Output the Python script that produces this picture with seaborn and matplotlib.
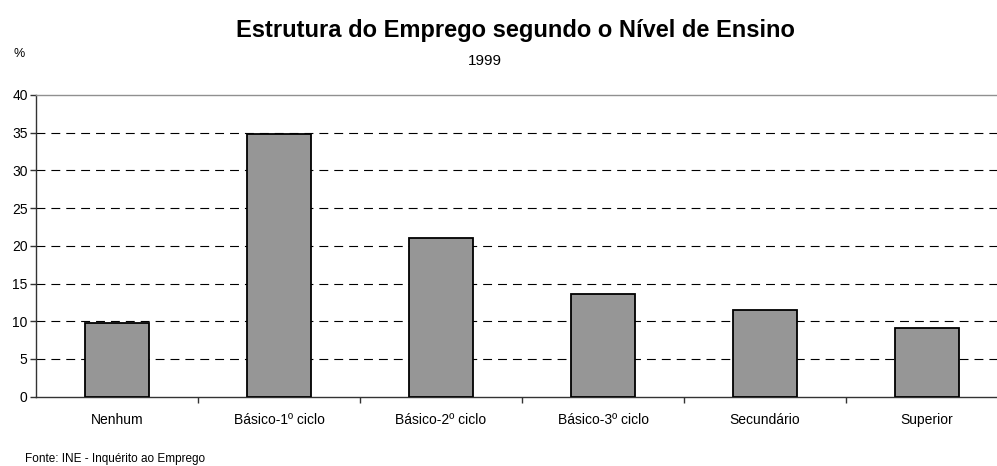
import numpy as np
import pandas as pd
import seaborn as sns
import matplotlib.pyplot as plt
from matplotlib.ticker import MultipleLocator, FixedLocator

niveis = ['Nenhum', 'Básico-1º ciclo', 'Básico-2º ciclo', 'Básico-3º ciclo', 'Secundário', 'Superior']
percentagem = [9.8, 34.8, 21.1, 13.6, 11.5, 9.1]

df = pd.DataFrame({'nivel': niveis, 'pct': percentagem})

sns.set_style('white')
plt.rcParams['font.family'] = ['Liberation Sans', 'DejaVu Sans']
plt.rcParams['text.color'] = 'black'
plt.rcParams['xtick.color'] = 'black'
plt.rcParams['ytick.color'] = 'black'
plt.rcParams['xtick.labelcolor'] = 'black'
plt.rcParams['ytick.labelcolor'] = 'black'

fig = plt.figure(figsize=(9.97, 4.66), dpi=100)
ax = fig.add_axes([36 / 997, 69.3 / 466, 972 / 997, 301.7 / 466])

sns.barplot(data=df, x='nivel', y='pct', color='#969696', saturation=1,
            edgecolor='black', linewidth=1.3, width=0.4, ax=ax, zorder=3)

ax.set_ylim(0, 40)
ax.set_xlim(-0.5, len(niveis) - 0.5)
ax.yaxis.set_major_locator(MultipleLocator(5))
# linhas de grelha tracejadas
for v in range(5, 40, 5):
    ax.axhline(v, color='black', lw=0.8, ls=(0, (8, 5.4)), zorder=1)

ax.spines['right'].set_visible(False)
ax.spines['top'].set_color('#909090')
ax.spines['top'].set_linewidth(1.0)
ax.spines['left'].set_color('#333333')
ax.spines['bottom'].set_color('#333333')
ax.spines['left'].set_linewidth(1.0)
ax.spines['bottom'].set_linewidth(1.0)

ax.tick_params(axis='y', which='major', left=True, length=4, width=1, color='#333333', labelsize=10, pad=2)
ax.tick_params(axis='x', which='major', bottom=False, labelsize=10, pad=8)
ax.xaxis.set_minor_locator(FixedLocator(np.arange(0.5, len(niveis) - 0.5, 1)))
ax.tick_params(axis='x', which='minor', bottom=True, length=4, width=1, color='#333333')
ax.set_xlabel('')
ax.set_ylabel('')

fig.text(515 / 997, 1 - 30 / 466, 'Estrutura do Emprego segundo o Nível de Ensino',
         ha='center', va='center', fontsize=17, fontweight='bold')
fig.text(485 / 997, 1 - 61 / 466, '1999', ha='center', va='center', fontsize=11)
fig.text(19 / 997, 1 - 54 / 466, '%', ha='center', va='center', fontsize=9)
fig.text(25 / 997, 1 - 459 / 466, 'Fonte: INE - Inquérito ao Emprego', ha='left', va='center', fontsize=8.5)

fig.savefig('out.png', dpi=100)
